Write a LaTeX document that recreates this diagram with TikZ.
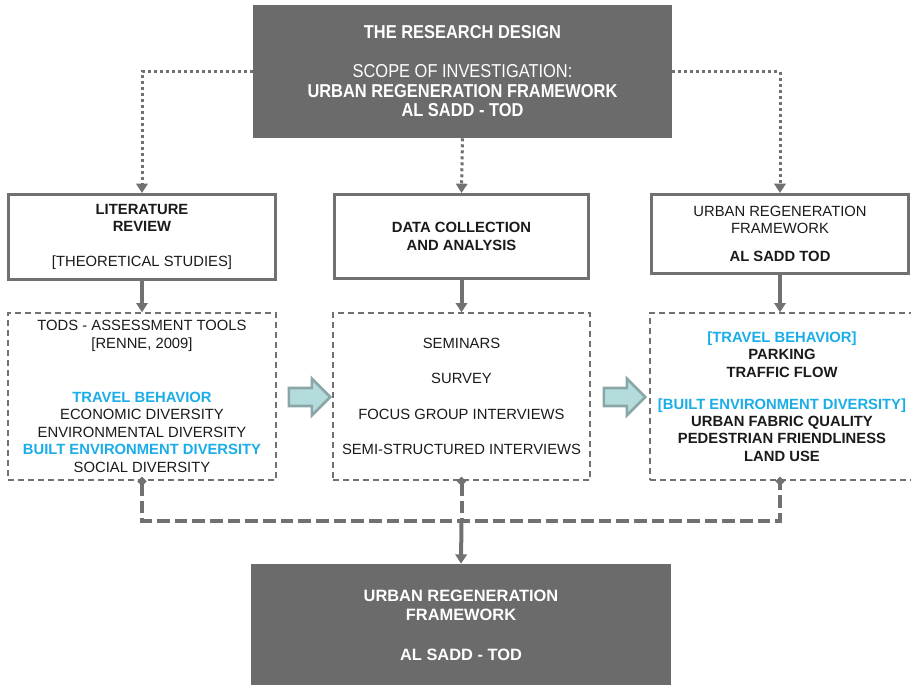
\documentclass[tikz,border=0pt]{standalone}
\usepackage{fontspec}
\setmainfont{Liberation Sans}
\newfontfamily\narrowsans[FakeStretch=0.88]{Liberation Sans}
\usetikzlibrary{arrows.meta,shapes.arrows}
\definecolor{boxgray}{HTML}{6B6B6B}
\definecolor{linegray}{HTML}{717171}
\definecolor{txtblue}{HTML}{1AADE8}
\definecolor{arrowfill}{HTML}{B5DCDC}
\definecolor{arrowedge}{HTML}{8AA6A6}
\definecolor{txt}{HTML}{1A1A1A}
\newcommand{\hl}[1]{{\bfseries\color{txtblue}#1}}
\tikzset{
  darkbox/.style={fill=boxgray, text=white, align=center},
  framebox/.style={draw=linegray, line width=2.25pt, align=center, text=txt, font=\fontsize{11.1}{12.9}\selectfont},
  dashbox/.style={draw=linegray, line width=1pt, dash pattern=on 4.5pt off 3pt, align=center, text=txt, font=\fontsize{11.1}{13.1}\selectfont},
  dotarrow/.style={draw=linegray, line width=2.25pt, dash pattern=on 2.25pt off 2.25pt, -{Triangle[length=7pt,width=8.5pt]}},
  solidarrow/.style={draw=linegray, line width=3pt, -{Triangle[length=7pt,width=8.5pt]}},
  bigdash/.style={draw=linegray, line width=3pt, dash pattern=on 9.5pt off 3.75pt},
  flowarrow/.style={single arrow, fill=arrowfill, draw=arrowedge, line width=2pt, minimum height=31pt, inner xsep=0pt, inner ysep=5.75pt, single arrow head extend=7pt}
}
\begin{document}
\begin{tikzpicture}[x=0.75pt,y=-0.75pt]
\useasboundingbox (0,0) rectangle (911,685);

\node[darkbox, minimum width=314.25pt, minimum height=99.75pt, font=\narrowsans\bfseries\fontsize{14}{14.6}\selectfont] (top) at (462.5,71.5)
  {THE RESEARCH DESIGN\\[14.6pt]{\mdseries SCOPE OF INVESTIGATION:}\\URBAN REGENERATION FRAMEWORK\\AL SADD - TOD};

\node[framebox, minimum width=200pt, minimum height=63.75pt] (lit) at (142,237)
  {\textbf{LITERATURE}\\\textbf{REVIEW}\\[13.3pt][THEORETICAL STUDIES]};
\node[framebox, minimum width=190.5pt, minimum height=63pt] (data) at (461.5,236.5)
  {\textbf{DATA COLLECTION}\\\textbf{AND ANALYSIS}};
\node[framebox, minimum width=192.75pt, minimum height=59.25pt] (frame) at (780,234)
  {URBAN REGENERATION\\FRAMEWORK\\[8.2pt]\textbf{AL SADD TOD}};

\node[dashbox, minimum width=201pt, minimum height=125.25pt] (litd) at (142,396.5)
  {TODS - ASSESSMENT TOOLS\\{[}RENNE, 2009]\\[27.4pt]\hl{TRAVEL BEHAVIOR}\\ECONOMIC DIVERSITY\\ENVIRONMENTAL DIVERSITY\\\hl{BUILT ENVIRONMENT DIVERSITY}\\SOCIAL DIVERSITY};
\node[dashbox, minimum width=192.75pt, minimum height=125.25pt] (datad) at (461.5,396.5)
  {SEMINARS\\[13.4pt]SURVEY\\[13.4pt]FOCUS GROUP INTERVIEWS\\[13.4pt]SEMI-STRUCTURED INTERVIEWS};
\node[dashbox, minimum width=198pt, minimum height=125.25pt, font=\bfseries\fontsize{11.1}{13.1}\selectfont] (framed) at (782,396.5)
  {\hl{[TRAVEL BEHAVIOR]}\\PARKING\\TRAFFIC FLOW\\[10.9pt]\hl{[BUILT ENVIRONMENT DIVERSITY]}\\URBAN FABRIC QUALITY\\PEDESTRIAN FRIENDLINESS\\LAND USE};

\node[darkbox, minimum width=315pt, minimum height=92.25pt, font=\bfseries\fontsize{12.3}{14.25}\selectfont] (result) at (461,625.5)
  {URBAN REGENERATION\\FRAMEWORK\\[15.75pt]AL SADD - TOD};

\node[flowarrow] (flow1) at (305,397) {};
\node[flowarrow] (flow2) at (620,397) {};

\draw[dotarrow] (top.west) -| (lit.north);
\draw[dotarrow] (top.south) -- (data.north);
\draw[dotarrow] (top.east) -| (frame.north);

\draw[solidarrow] (lit.south) -- (litd.north);
\draw[solidarrow] (data.south) -- (datad.north);
\draw[solidarrow] (frame.south) -- (frame.south |- framed.north);

\coordinate (join) at (461.5,521);
\draw[bigdash, {Diamond[length=7pt,width=7pt]}-{Diamond[length=7pt,width=7pt]}, shorten <=-3pt, shorten >=-3pt] (litd.south) |- (join) -| (framed.south -| frame.south);
\draw[bigdash, {Diamond[length=7pt,width=7pt]}-, shorten <=-3pt] (datad.south) -- (join);
\draw[solidarrow] (join) -- (result.north);
\end{tikzpicture}
\end{document}
